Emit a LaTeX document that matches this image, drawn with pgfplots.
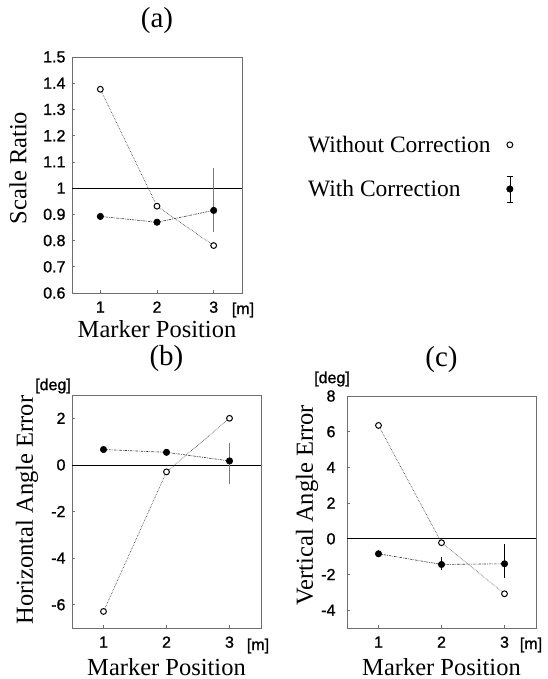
\documentclass[border=0pt]{standalone}
\usepackage{fontspec}
\setmainfont{Liberation Serif}
\newfontfamily\tickfont[FakeBold=1.2]{Liberation Sans}
\usepackage{pgfplots}
\pgfplotsset{compat=1.18}
\definecolor{boxgray}{RGB}{110,110,110}
\definecolor{ebgray}{RGB}{120,120,120}
\newcommand\tf{\tickfont\fontsize{16}{16}\selectfont}
\pgfplotsset{
  myax/.style={
    scale only axis,
    xmin=0.5, xmax=3.5,
    xtick={1,2,3},
    tick align=inside,
    xtick pos=bottom, ytick pos=left,
    major tick length=3pt,
    axis line style={boxgray, line width=0.8pt},
    every tick/.style={boxgray, line width=0.6pt},
    /pgf/number format/assume math mode=true,
    tick label style={font=\tf},
    yticklabel style={xshift=-3pt},
    xticklabel style={yshift=-5pt},
    label style={font=\fontsize{24.5}{24.5}\selectfont},
    title style={font=\fontsize{29}{29}\selectfont, at={(axis description cs:0.5,1)}, anchor=center, yshift=30pt},
    xlabel style={at={(axis description cs:0.5,0)}, anchor=base, yshift=-44pt},
    ylabel style={anchor=center},
    clip=false,
  },
  wo/.style={black!85, densely dotted, line width=0.6pt, mark=*,
    mark options={solid, fill=white, draw=black, line width=1pt}, mark size=2.9pt},
  wi/.style={black!80, dash pattern=on 2.5pt off 1pt on 0.8pt off 1pt, line width=0.6pt, mark=*,
    mark options={solid, fill=black, draw=black}, mark size=3.2pt},
  woleg/.style={legend image code/.code={\path[##1] plot coordinates {(0pt,0pt)};}},
  wileg/.style={legend image code/.code={%
    \draw[black, line width=0.6pt, solid] (0pt,-13pt) -- (0pt,13pt);
    \draw[black, line width=0.6pt, solid] (-3pt,-13pt) -- (3pt,-13pt);
    \draw[black, line width=0.6pt, solid] (-3pt,13pt) -- (3pt,13pt);
    \path[##1] plot coordinates {(0pt,0pt)};}},
  eb/.style={draw=none, forget plot, mark=none,
    error bars/.cd, y dir=both, y explicit,
    error bar style={color=#1, line width=0.8pt, solid},
    error mark options={color=#1, line width=0.8pt, mark size=3pt, solid}},
  zero/.style={black, line width=0.6pt, forget plot, mark=none},
}
\begin{document}
\begin{tikzpicture}
\path[use as bounding box] (0,0) rectangle (548pt,-679pt);
% ---------------- (a)
\begin{axis}[myax,
  at={(72pt,-293pt)}, anchor=south west,
  width=170pt, height=236pt,
  ymin=0.6, ymax=1.5,
  ytick={0.6,0.7,0.8,0.9,1,1.1,1.2,1.3,1.4,1.5},
  title={(a)},
  xlabel={Marker Position},
  ylabel={Scale Ratio},
  ylabel style={at={(axis description cs:0,0.53)}, yshift=54pt},
  legend plot pos=right,
  legend style={draw=none, fill=none, at={(axis description cs:1.376,0.675)}, anchor=north west,
    font=\fontsize{23.5}{23.5}\selectfont, row sep=20pt, column sep=14pt,
    inner sep=0pt, cells={anchor=west}},
]
\addplot[zero] coordinates {(0.5,1) (3.5,1)};
\addplot[wo, woleg] coordinates {(1,1.377) (2,0.931) (3,0.781)};
\addlegendentry{Without Correction}
\addplot[wi, wileg] coordinates {(1,0.892) (2,0.870) (3,0.915)};
\addlegendentry{With Correction}
\addplot[eb=ebgray] coordinates {(3,0.915) += (0,0.149) -= (0,0.070)};
\node[font=\tf] at ([xshift=1pt,yshift=-17pt]rel axis cs:1,0) {[m]};
\end{axis}
% ---------------- (b)
\begin{axis}[myax,
  at={(72pt,-628pt)}, anchor=south west,
  width=189pt, height=233pt,
  ymin=-7, ymax=3,
  ytick={-6,-4,-2,0,2},
  title={(b)},
  xlabel={Marker Position},
  xlabel style={yshift=-3pt},
  ylabel={Horizontal Angle Error},
  ylabel style={at={(axis description cs:0,0.506)}, yshift=45pt},
]
\addplot[zero] coordinates {(0.5,0) (3.5,0)};
\addplot[wo] coordinates {(1,-6.29) (2,-0.30) (3,2.0)};
\addplot[wi] coordinates {(1,0.66) (2,0.54) (3,0.17)};
\addplot[eb=ebgray] coordinates {(3,0.17) += (0,0.63) -= (0,0.88)};
\node[font=\tf] at ([xshift=-3pt,yshift=-18pt]rel axis cs:1,0) {[m]};
\node[font=\tf] at ([xshift=-19pt,yshift=9pt]rel axis cs:0,1) {[deg]};
\end{axis}
% ---------------- (c)
\begin{axis}[myax,
  at={(347pt,-628pt)}, anchor=south west,
  width=189pt, height=232pt,
  ymin=-5, ymax=8,
  ytick={-4,-2,0,2,4,6,8},
  yticklabel style={xshift=-5pt},
  title={(c)},
  xlabel={Marker Position},
  xlabel style={yshift=-3pt},
  ylabel={Vertical Angle Error},
  ylabel style={at={(axis description cs:0,0.53)}, yshift=40pt},
]
\addplot[zero] coordinates {(0.5,0) (3.5,0)};
\addplot[wo] coordinates {(1,6.35) (2,-0.22) (3,-3.08)};
\addplot[wi] coordinates {(1,-0.84) (2,-1.44) (3,-1.40)};
\addplot[eb=black] coordinates {(2,-1.44) += (0,0.26) -= (0,0.16) (3,-1.40) += (0,0.93) -= (0,0.62)};
\node[font=\tf] at ([xshift=-5pt,yshift=-17pt]rel axis cs:1,0) {[m]};
\node[font=\tf] at ([xshift=-15pt,yshift=17pt]rel axis cs:0,1) {[deg]};
\end{axis}
\end{tikzpicture}
\end{document}
